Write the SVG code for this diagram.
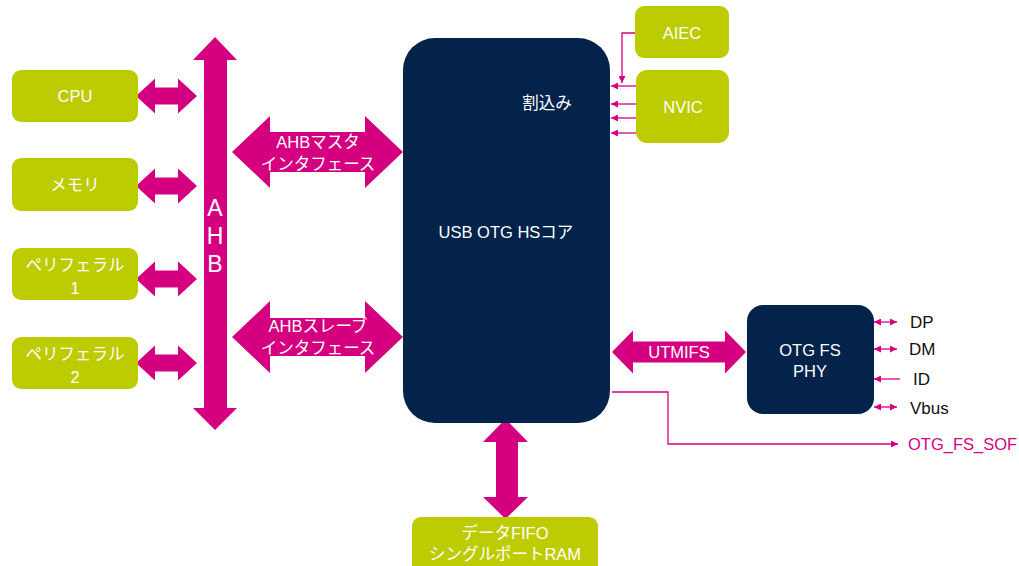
<svg xmlns="http://www.w3.org/2000/svg" width="1019" height="566" viewBox="0 0 1019 566">
<style>
.g{fill:#BDCC00}
.n{fill:#03234B}
.m{fill:#D5007F}
.t{font-family:"Liberation Sans","Noto Sans CJK JP",sans-serif;font-size:16.5px;fill:#fff;text-anchor:middle;dominant-baseline:central}
.k{font-family:"Liberation Sans","Noto Sans CJK JP",sans-serif;font-size:17px;fill:#111;dominant-baseline:central}
.ln{stroke:#D5007F;stroke-width:1.3;fill:none}
</style>
<defs>
<marker id="ah2" viewBox="0 0 10 10" refX="10" refY="5" markerWidth="7" markerHeight="7" markerUnits="userSpaceOnUse" orient="auto-start-reverse"><path d="M0,0L10,5L0,10z" fill="#D5007F"/></marker>
</defs>
<rect width="1019" height="566" fill="#fff"/>
<g id="connectors">
<polygon class="m" points="136,96 155,78.5 155,87.5 178,87.5 178,78.5 197,96 178,113.5 178,104.5 155,104.5 155,113.5"/>
<polygon class="m" points="136,186 155,168.5 155,177.5 178,177.5 178,168.5 197,186 178,203.5 178,194.5 155,194.5 155,203.5"/>
<polygon class="m" points="136,279 155,261.5 155,270.5 178,270.5 178,261.5 197,279 178,296.5 178,287.5 155,287.5 155,296.5"/>
<polygon class="m" points="136,363 155,345.5 155,354.5 178,354.5 178,345.5 197,363 178,380.5 178,371.5 155,371.5 155,380.5"/>
<g id="ahb">
<polygon class="m" points="215,37 237,60 227,60 227,408 237,408 215,430 193,408 204,408 204,60 193,60"/>
<text class="t" x="215" y="208" style="font-size:23px">A</text>
<text class="t" x="215" y="236" style="font-size:23px">H</text>
<text class="t" x="215" y="264" style="font-size:23px">B</text>
</g>
<g id="ahb-master">
<polygon class="m" points="232,152 270,116 270,132 365,132 365,116 403,152 365,188 365,172 270,172 270,188"/>
<text class="t" x="318" y="142">AHBマスタ</text>
<text class="t" x="318" y="164">インタフェース</text>
</g>
<g id="ahb-slave">
<polygon class="m" points="232,337 270,301 270,318 365,318 365,301 403,337 365,373 365,356 270,356 270,373"/>
<text class="t" x="318" y="326">AHBスレーブ</text>
<text class="t" x="318" y="348">インタフェース</text>
</g>
<g id="utmifs">
<polygon class="m" points="612,352 633,330.5 633,341.5 725,341.5 725,330.5 746,352 725,373.5 725,362.5 633,362.5 633,373.5"/>
<text class="t" x="679" y="352">UTMIFS</text>
</g>
<polygon class="m" points="505.5,419 528,442 518,442 518,497 528,497 505.5,519 483,497 496,497 496,442 483,442"/>
<path class="ln" d="M636,33H622V83" marker-end="url(#ah2)"/>
<path class="ln" d="M636,86H611" marker-end="url(#ah2)"/>
<path class="ln" d="M636,104H611" marker-end="url(#ah2)"/>
<path class="ln" d="M636,118H611" marker-end="url(#ah2)"/>
<path class="ln" d="M636,133H611" marker-end="url(#ah2)"/>
<path class="ln" d="M874,322H897" marker-start="url(#ah2)" marker-end="url(#ah2)"/>
<path class="ln" d="M874,349H897" marker-start="url(#ah2)" marker-end="url(#ah2)"/>
<path class="ln" d="M900,379H874" marker-end="url(#ah2)"/>
<path class="ln" d="M874,407H897" marker-start="url(#ah2)" marker-end="url(#ah2)"/>
<path class="ln" d="M612,392H668V444H898" marker-end="url(#ah2)"/>
</g>
<g id="cpu"><rect class="g" x="12" y="70" width="126" height="52" rx="9"/><text class="t" x="75" y="96">CPU</text></g>
<g id="memory"><rect class="g" x="12" y="158" width="126" height="53" rx="9"/><text class="t" x="75" y="185">メモリ</text></g>
<g id="periph1"><rect class="g" x="12" y="248" width="126" height="52" rx="9"/><text class="t" x="75" y="265">ペリフェラル</text><text class="t" x="75" y="288">1</text></g>
<g id="periph2"><rect class="g" x="12" y="337" width="126" height="52" rx="9"/><text class="t" x="75" y="354">ペリフェラル</text><text class="t" x="75" y="377">2</text></g>
<g id="core"><rect class="n" x="403" y="38" width="207" height="385" rx="32"/><text class="t" x="547" y="103">割込み</text><text class="t" x="506" y="232">USB OTG HSコア</text></g>
<g id="aiec"><rect class="g" x="635" y="6" width="94" height="52" rx="9"/><text class="t" x="682" y="33">AIEC</text></g>
<g id="nvic"><rect class="g" x="636" y="70" width="93" height="73" rx="11"/><text class="t" x="683" y="107">NVIC</text></g>
<g id="phy"><rect class="n" x="747" y="305" width="127" height="109" rx="16"/><text class="t" x="810" y="350">OTG FS</text><text class="t" x="810" y="371">PHY</text></g>
<g id="fifo"><rect class="g" x="412" y="517" width="186" height="60" rx="9"/><text class="t" x="505" y="533">データFIFO</text><text class="t" x="505" y="554">シングルポートRAM</text></g>
<g id="pins">
<text class="k" x="910" y="322">DP</text>
<text class="k" x="909" y="349">DM</text>
<text class="k" x="913" y="379">ID</text>
<text class="k" x="910" y="408">Vbus</text>
<text class="k" x="908" y="444" style="fill:#D5007F;font-size:16.5px">OTG_FS_SOF</text>
</g>
</svg>
